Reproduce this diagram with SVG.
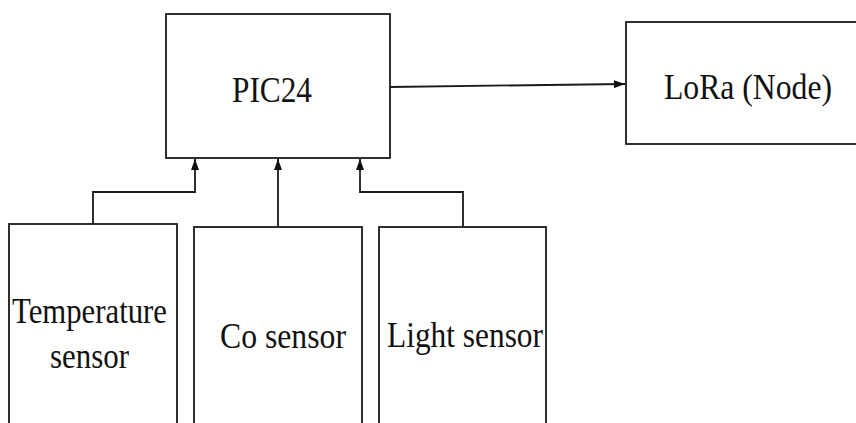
<svg xmlns="http://www.w3.org/2000/svg" width="856" height="423" viewBox="0 0 856 423">
<style>
.box{fill:#fff;stroke:#1a1a1a;stroke-width:1.8}
.lbl{font-family:"Liberation Serif","Times New Roman",serif;font-size:36px;fill:#111}
.conn{fill:none;stroke:#1a1a1a;stroke-width:1.8}
</style>
<defs>
<marker id="ah" viewBox="0 0 11 8" refX="11" refY="4" markerWidth="11" markerHeight="8" markerUnits="userSpaceOnUse" orient="auto">
<path d="M0,0 L11,4 L0,8 Z" fill="#111"/>
</marker>
</defs>
<rect width="856" height="423" fill="#fff"/>
<g id="pic24">
<rect class="box" x="166" y="14" width="224" height="144"/>
<text class="lbl" x="232" y="102" textLength="80" lengthAdjust="spacingAndGlyphs">PIC24</text>
</g>
<g id="lora">
<rect class="box" x="626" y="22" width="240" height="122"/>
<text class="lbl" x="664" y="99" textLength="168" lengthAdjust="spacingAndGlyphs">LoRa (Node)</text>
</g>
<g id="temperature">
<rect class="box" x="9" y="224" width="168" height="210"/>
<text class="lbl" x="12" y="323" textLength="155" lengthAdjust="spacingAndGlyphs">Temperature</text>
<text class="lbl" x="50" y="368" textLength="79" lengthAdjust="spacingAndGlyphs">sensor</text>
</g>
<g id="co">
<rect class="box" x="194" y="227" width="168" height="210"/>
<text class="lbl" x="220" y="348" textLength="126" lengthAdjust="spacingAndGlyphs">Co sensor</text>
</g>
<g id="light">
<rect class="box" x="379" y="227" width="167" height="210"/>
<text class="lbl" x="387" y="347" textLength="156" lengthAdjust="spacingAndGlyphs">Light sensor</text>
</g>
<g id="connectors">
<path class="conn" d="M390,87 L625,84" marker-end="url(#ah)"/>
<path class="conn" d="M93,224 L93,192 L195,192 L195,159" marker-end="url(#ah)"/>
<path class="conn" d="M278,227 L278,159" marker-end="url(#ah)"/>
<path class="conn" d="M463,227 L463,192 L360,192 L360,159" marker-end="url(#ah)"/>
</g>
</svg>
